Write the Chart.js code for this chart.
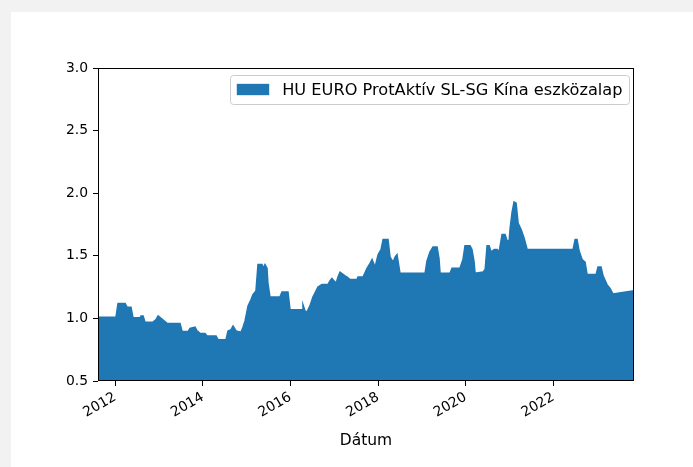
<!DOCTYPE html>
<html>
<head>
<meta charset="utf-8">
<script src="https://cdn.jsdelivr.net/npm/chart.js@4/dist/chart.umd.min.js"></script>
<style>
  html, body { margin: 0; padding: 0; background: #f2f2f2; }
  #card { position: absolute; left: 11px; top: 12px; width: 682px; height: 455px; background: #fff; }
  canvas { display: block; }
</style>
</head>
<body>
<div id="card"><canvas id="chart" width="682" height="455"></canvas></div>
<script>
// adatok (becsült értékek a képről)
const seriesLabel = 'HU EURO ProtAktív SL-SG Kína eszközalap';
const dates = [
  '2011-08-11','2012-01-08','2012-01-25','2012-03-24','2012-04-09','2012-05-12','2012-05-29','2012-07-27',
  '2012-08-04','2012-08-21','2012-09-06','2012-11-12','2012-12-07','2012-12-24','2013-01-18','2013-03-09',
  '2013-06-25','2013-07-12','2013-08-31','2013-09-16','2013-10-28','2013-11-14','2013-12-09','2014-01-19',
  '2014-02-05','2014-04-21','2014-05-08','2014-07-13','2014-07-30','2014-08-24','2014-09-10','2014-10-05',
  '2014-11-15','2014-12-02','2014-12-19','2015-01-13','2015-02-07','2015-02-23','2015-03-20','2015-04-06',
  '2015-05-09','2015-05-18','2015-06-03','2015-06-20','2015-06-28','2015-07-15','2015-10-06','2015-10-23',
  '2015-12-12','2015-12-29','2016-04-07','2016-04-15','2016-05-02','2016-05-18','2016-06-12','2016-07-07',
  '2016-08-18','2016-09-20','2016-11-09','2016-11-26','2016-12-12','2017-01-16','2017-02-01','2017-02-18',
  '2017-04-01','2017-04-18','2017-05-12','2017-07-10','2017-07-18','2017-08-29','2017-10-01','2017-10-26',
  '2017-11-12','2017-12-07','2018-01-02','2018-01-26','2018-02-12','2018-03-25','2018-04-11','2018-05-06',
  '2018-05-23','2018-06-08','2018-07-03','2019-01-28','2019-02-13','2019-03-10','2019-04-04','2019-05-08',
  '2019-05-24','2019-06-02','2019-08-24','2019-09-10','2019-11-15','2019-12-10','2019-12-27','2020-02-07',
  '2020-02-23','2020-03-12','2020-03-20','2020-05-26','2020-06-12','2020-06-28','2020-07-15','2020-08-01',
  '2020-08-26','2020-09-20','2020-10-06','2020-10-31','2020-11-25','2020-12-12','2020-12-29','2021-01-06',
  '2021-01-23','2021-02-08','2021-02-25','2021-03-14','2021-04-08','2021-05-03','2021-05-28','2022-06-15',
  '2022-07-02','2022-07-18','2022-08-04','2022-08-29','2022-09-23','2022-10-10','2022-12-24','2023-01-09',
  '2023-02-03','2023-02-20','2023-03-25','2023-04-19','2023-05-14','2023-11-05'
];
const prices = [
  1.01, 1.01, 1.12, 1.12, 1.09, 1.09, 1.005, 1.005,
  1.02, 1.02, 0.97, 0.97, 0.99, 1.02, 1.00, 0.96,
  0.96, 0.895, 0.895, 0.92, 0.93, 0.90, 0.88, 0.88,
  0.86, 0.86, 0.83, 0.83, 0.90, 0.91, 0.94, 0.90,
  0.89, 0.93, 0.98, 1.10, 1.15, 1.19, 1.22, 1.43,
  1.43, 1.40, 1.43, 1.40, 1.28, 1.17, 1.17, 1.21,
  1.21, 1.07, 1.07, 1.11, 1.06, 1.05, 1.10, 1.17,
  1.25, 1.27, 1.27, 1.30, 1.32, 1.28, 1.33, 1.37,
  1.34, 1.33, 1.31, 1.31, 1.33, 1.33, 1.40, 1.44,
  1.47, 1.41, 1.51, 1.55, 1.63, 1.63, 1.49, 1.45,
  1.49, 1.51, 1.36, 1.36, 1.46, 1.53, 1.57, 1.57,
  1.48, 1.36, 1.36, 1.40, 1.40, 1.47, 1.58, 1.58,
  1.55, 1.45, 1.36, 1.37, 1.39, 1.58, 1.58, 1.53,
  1.55, 1.55, 1.53, 1.67, 1.67, 1.62, 1.62, 1.72,
  1.85, 1.93, 1.92, 1.76, 1.71, 1.64, 1.55, 1.55,
  1.63, 1.63, 1.54, 1.47, 1.45, 1.35, 1.35, 1.41,
  1.41, 1.34, 1.27, 1.24, 1.195, 1.22
];
const xTickYears = [2012, 2014, 2016, 2018, 2020, 2022];
const yTickValues = [0.5, 1.0, 1.5, 2.0, 2.5, 3.0];
const xTitle = 'Dátum';

const FONT = '"DejaVu Sans", sans-serif';
const FS = 13.9;      // tengelyfeliratok
const LFS = 16.2;     // jelmagyarázat
const BLUE = '#1f77b4';

function toMs(d) {
  const p = d.split('-').map(Number);
  return Date.UTC(p[0], p[1] - 1, p[2]);
}

const points = dates.map((d, i) => ({ x: toMs(d), y: prices[i] }));

// tengelykeret + jelmagyarázat (matplotlib stílus)
const framePlugin = {
  id: 'framePlugin',
  afterDraw(chart) {
    const { ctx, chartArea: a } = chart;
    ctx.save();
    ctx.strokeStyle = '#000';
    ctx.lineWidth = 1;
    const l = Math.round(a.left) + 0.5, t = Math.round(a.top) + 0.5;
    const r = Math.round(a.right) - 0.5, b = Math.round(a.bottom) - 0.5;
    ctx.strokeRect(l, t, r - l, b - t);

    // legend
    const ds = chart.data.datasets[0];
    ctx.font = LFS + 'px ' + FONT;
    const tw = ctx.measureText(ds.label).width;
    const pad = 0.4 * LFS, hl = 2 * LFS, htp = 0.8 * LFS;
    const w = pad * 2 + hl + htp + tw;
    const h = 29;
    const x = a.right - 5 - w;
    const y = a.top + 7;
    ctx.beginPath();
    ctx.roundRect(Math.round(x) + 0.5, Math.round(y) + 0.5, Math.round(w), h, 3);
    ctx.fillStyle = 'rgba(255,255,255,0.8)';
    ctx.fill();
    ctx.strokeStyle = '#cccccc';
    ctx.stroke();
    ctx.fillStyle = ds.backgroundColor;
    ctx.fillRect(x + pad, y + h / 2 - 0.35 * LFS, hl, 0.7 * LFS);
    ctx.fillStyle = '#000';
    ctx.textBaseline = 'middle';
    ctx.fillText(ds.label, x + pad + hl + htp, y + h / 2 + 1);
    ctx.restore();
  }
};

new Chart(document.getElementById('chart'), {
  type: 'line',
  data: {
    datasets: [{
      label: seriesLabel,
      data: points,
      backgroundColor: BLUE,
      borderColor: BLUE,
      borderWidth: 1.5,
      pointRadius: 0,
      tension: 0,
      fill: 'start'
    }]
  },
  options: {
    responsive: false,
    animation: false,
    devicePixelRatio: 1,
    layout: { padding: { top: 56, right: 59, left: 0, bottom: 0 } },
    plugins: {
      legend: { display: false },
      tooltip: { enabled: false }
    },
    scales: {
      x: {
        type: 'linear',
        min: points[0].x,
        max: points[points.length - 1].x,
        afterBuildTicks(scale) {
          scale.ticks = xTickYears.map(yr => ({ value: Date.UTC(yr, 0, 1) }));
        },
        afterFit(scale) { scale.height = 86; },
        grid: { drawOnChartArea: false, drawTicks: true, tickLength: 5, color: '#000', tickWidth: 1 },
        border: { display: false },
        ticks: {
          color: '#000',
          font: { family: FONT, size: FS },
          minRotation: 30,
          maxRotation: 30,
          padding: 3,
          autoSkip: false,
          callback: v => String(new Date(v).getUTCFullYear())
        },
        title: {
          display: true,
          text: xTitle,
          color: '#000',
          font: { family: FONT, size: 15.5 },
          padding: { top: 0, bottom: 17 }
        }
      },
      y: {
        min: yTickValues[0],
        max: yTickValues[yTickValues.length - 1],
        afterBuildTicks(scale) {
          scale.ticks = yTickValues.map(v => ({ value: v }));
        },
        afterFit(scale) { scale.width = 87; },
        grid: { drawOnChartArea: false, drawTicks: true, tickLength: 5, color: '#000', tickWidth: 1 },
        border: { display: false },
        ticks: {
          color: '#000',
          font: { family: FONT, size: FS },
          padding: 5,
          callback: v => Number(v).toFixed(1)
        }
      }
    }
  },
  plugins: [framePlugin]
});
</script>
</body>
</html>
